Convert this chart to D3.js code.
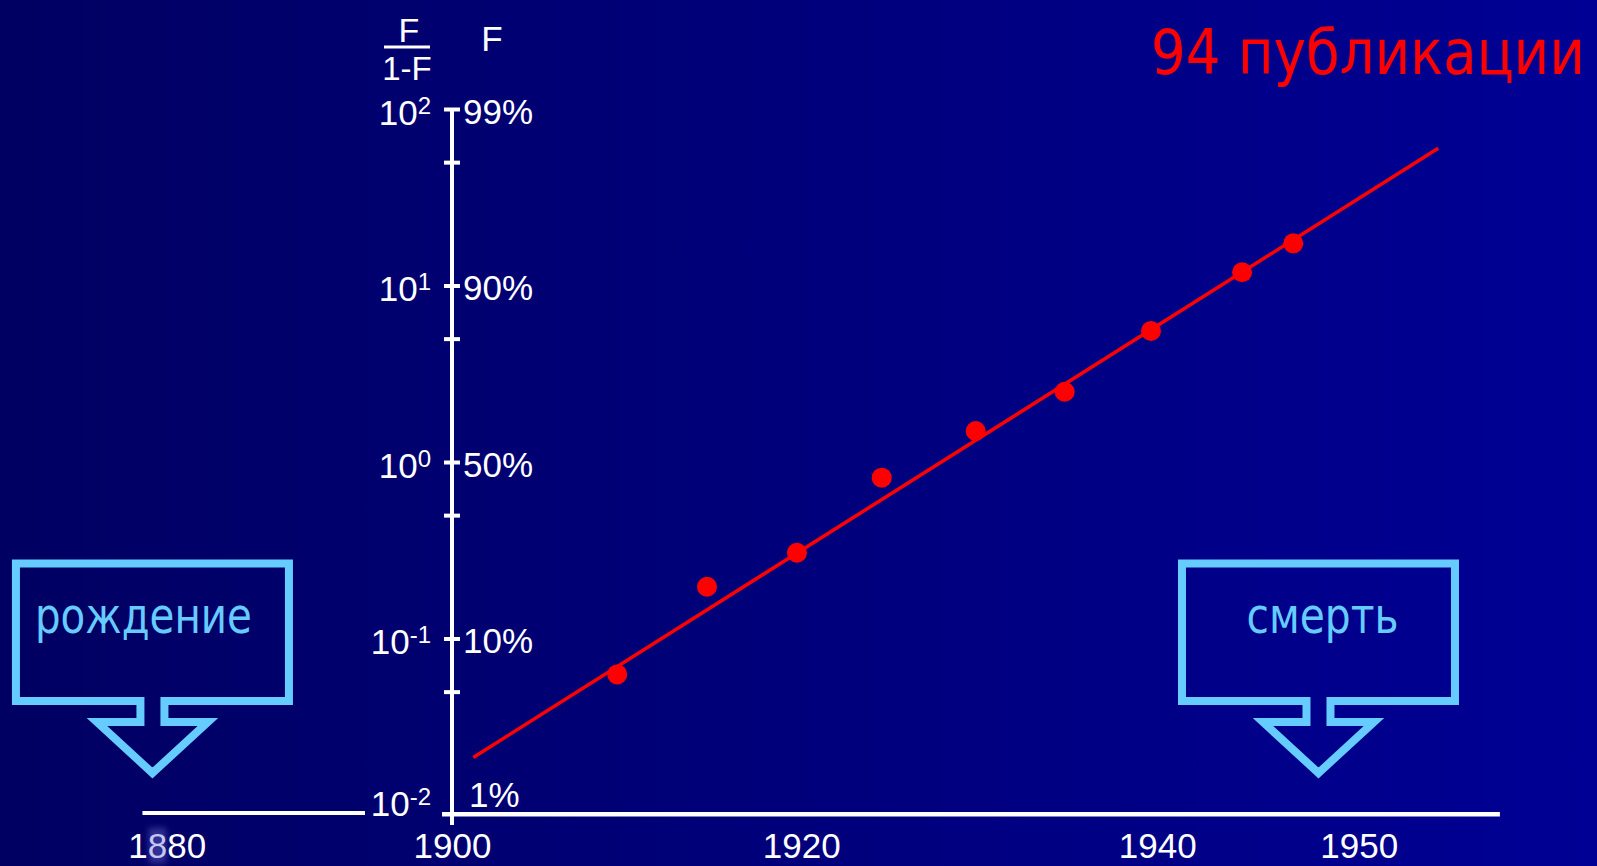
<!DOCTYPE html>
<html>
<head>
<meta charset="utf-8">
<script src="https://cdn.jsdelivr.net/npm/d3@7"></script>
<style>
  html, body { margin: 0; padding: 0; background: #000066; overflow: hidden; }
  svg { display: block; }
</style>
</head>
<body>
<svg id="chart" width="1597" height="866"></svg>
<script>
// Cumulative share of publications F, shown as the odds F/(1-F) on a log axis
const years = [1909.46, 1914.60, 1919.75, 1924.52, 1929.80, 1934.80, 1939.65, 1944.21, 1946.75];
const odds  = [0.0626, 0.1965, 0.306, 0.815, 1.498, 2.50, 5.52, 11.88, 17.34];

// Fitted logistic trend (a straight line in log-odds)
const fitYears = [1901.22, 1953.94];
const fitOdds  = [0.0212, 59.9];

// Axis ticks and labels
const yearTicks  = [1880, 1900, 1920, 1940, 1950];
const oddsTicks  = [0.01, 0.1, 1, 10, 100];
const minorTicks = [0.05, 0.5, 5, 50];
const pctLabels  = ["1%", "10%", "50%", "90%", "99%"];
const axisRuns   = [[1878.3, 1893.9], [1899.3, 1957.0]];

// Life events
const eventLabels = ["рождение", "смерть"];
const eventYears  = [1879, 1948];

const title = "94 публикации";

const W = 1597, H = 866;
const svg = d3.select("#chart");
const numFont = "'Liberation Sans', Arial, sans-serif";
const txtFont = "'DejaVu Sans', Tahoma, Verdana, sans-serif";
const white = "#ffffff";
const red = "#ff0000";
const cyan = "#66ccff";

// text squeezed horizontally to a given width (Tahoma-like proportions)
function fitText(g, str, cx, baseline, width, size, fill, anchor) {
  const t = g.append("text")
    .attr("font-family", txtFont).attr("font-size", size)
    .attr("fill", fill).attr("text-anchor", anchor).text(str);
  const natural = t.node().getComputedTextLength();
  t.attr("transform", `translate(${cx},${baseline}) scale(${width / natural},1)`);
  return t;
}

// background
const defs = svg.append("defs");
const grad = defs.append("linearGradient").attr("id", "bg").attr("x1", 0).attr("x2", 1).attr("y1", 0).attr("y2", 0);
grad.append("stop").attr("offset", "0%").attr("stop-color", "#000062");
grad.append("stop").attr("offset", "100%").attr("stop-color", "#000094");
const glow = defs.append("filter").attr("id", "soft").attr("x", "-50%").attr("y", "-50%").attr("width", "200%").attr("height", "200%");
glow.append("feGaussianBlur").attr("stdDeviation", 3);
svg.append("rect").attr("width", W).attr("height", H).attr("fill", "url(#bg)");

// scales: the year axis is calibrated piecewise on its labelled years
const x = d3.scaleLinear().domain(yearTicks).range([166.7, 452, 801.3, 1157.2, 1358.8]);
const y = d3.scaleLog().domain([0.01, 100]).range([815, 109]);
const ax = x(1900);
const base = y(0.01);

// broken horizontal baseline
svg.append("g").selectAll("line").data(axisRuns).join("line")
  .attr("x1", d => x(d[0])).attr("x2", d => x(d[1]))
  .attr("y1", (d, i) => base - (i === 0 ? 2 : 0.7))
  .attr("y2", (d, i) => base - (i === 0 ? 2 : 0.7))
  .attr("stroke", white).attr("stroke-width", (d, i) => i === 0 ? 4 : 4.5);

// year labels
const gx = svg.append("g").attr("transform", `translate(0,${base})`)
  .call(d3.axisBottom(x).tickValues(yearTicks).tickSize(0).tickFormat(d3.format("d")));
gx.select(".domain").remove();
gx.selectAll(".tick text")
  .attr("y", 43).attr("dy", 0)
  .attr("fill", white).attr("font-family", numFont).attr("font-size", 35);

// soft highlight on the second digit of the first year label
gx.selectAll(".tick text").filter(d => d === yearTicks[0]).each(function () {
  const t = d3.select(this);
  const label = t.text();
  const ext = this.getExtentOfChar(1);
  const tick = d3.select(this.parentNode);
  tick.insert("rect", "text")
    .attr("x", ext.x + 1).attr("y", ext.y + 2)
    .attr("width", ext.width - 2).attr("height", ext.height - 4)
    .attr("fill", "#5a5ab8").attr("opacity", 0.55).attr("filter", "url(#soft)");
  t.text(null);
  t.append("tspan").text(label[0]);
  t.append("tspan").attr("fill", "#c6c6f2").text(label[1]);
  t.append("tspan").text(label.slice(2));
});

// vertical axis
svg.append("line")
  .attr("x1", ax).attr("x2", ax).attr("y1", y(100)).attr("y2", base + 10)
  .attr("stroke", white).attr("stroke-width", 4);

const gt = svg.append("g").attr("transform", `translate(${ax},0)`)
  .call(d3.axisRight(y).tickValues(oddsTicks.concat(minorTicks)).tickSize(8).tickSizeOuter(0).tickFormat(""));
gt.select(".domain").remove();
gt.selectAll(".tick line").attr("x1", -8).attr("x2", 8).attr("stroke", white).attr("stroke-width", 4);
gt.selectAll(".tick").filter(d => d === 0.01).remove();

// odds labels 10^k on the left
const gl = svg.append("g").attr("transform", `translate(${ax},0)`)
  .call(d3.axisLeft(y).tickValues(oddsTicks).tickSize(0).tickPadding(21).tickFormat(""));
gl.select(".domain").remove();
gl.selectAll(".tick text").each(function (d) {
  const t = d3.select(this)
    .attr("fill", white).attr("font-family", numFont).attr("font-size", 35)
    .attr("dy", d === 0.01 ? 0 : 15);
  t.append("tspan").text("10");
  t.append("tspan").attr("dy", -11).attr("font-size", 24).text(Math.round(Math.log10(d)));
});

// share labels on the right
const gr = svg.append("g").attr("transform", `translate(${ax},0)`)
  .call(d3.axisRight(y).tickValues(oddsTicks).tickSize(0).tickPadding(11).tickFormat((d, i) => pctLabels[i]));
gr.select(".domain").remove();
gr.selectAll(".tick text")
  .attr("fill", white).attr("font-family", numFont).attr("font-size", 35)
  .attr("dy", d => d === 0.01 ? -9 : 14)
  .attr("x", d => d === 0.01 ? 17 : 11);

// axis headers: F/(1-F) and F
const hdr = svg.append("g").attr("fill", white).attr("font-family", numFont).attr("text-anchor", "middle");
hdr.append("text").attr("x", ax - 43).attr("y", 42).attr("font-size", 34).text("F");
hdr.append("line").attr("x1", ax - 68).attr("x2", ax - 22).attr("y1", 47).attr("y2", 47)
  .attr("stroke", white).attr("stroke-width", 3);
hdr.append("text").attr("x", ax - 45).attr("y", 80).attr("font-size", 33).text("1-F");
hdr.append("text").attr("x", ax + 40).attr("y", 51).attr("font-size", 35).text("F");

// fitted line
svg.append("path")
  .datum(fitYears.map((t, i) => [t, fitOdds[i]]))
  .attr("d", d3.line().x(d => x(d[0])).y(d => y(d[1])))
  .attr("fill", "none").attr("stroke", red).attr("stroke-width", 3.5);

// observed points
svg.append("g").selectAll("circle").data(years).join("circle")
  .attr("cx", d => x(d)).attr("cy", (d, i) => y(odds[i]))
  .attr("r", 10).attr("fill", red);

// title
fitText(svg, title, 1151, 73.5, 434, 63, red, "start");

// callouts for birth and death
const box = { half: 136.5, top: 563.5, bottom: 701, stem: 12, head: 55.5, headTop: 722, tip: 773 };
const textDx = [-9, 4];
const textLen = [217, 152];
const callout = svg.append("g");
eventYears.forEach((yr, i) => {
  const cx = x(yr);
  const p = d3.path();
  p.moveTo(cx - box.half, box.top);
  p.lineTo(cx + box.half, box.top);
  p.lineTo(cx + box.half, box.bottom);
  p.lineTo(cx + box.stem, box.bottom);
  p.lineTo(cx + box.stem, box.headTop);
  p.lineTo(cx + box.head, box.headTop);
  p.lineTo(cx, box.tip);
  p.lineTo(cx - box.head, box.headTop);
  p.lineTo(cx - box.stem, box.headTop);
  p.lineTo(cx - box.stem, box.bottom);
  p.lineTo(cx - box.half, box.bottom);
  p.closePath();
  callout.append("path").attr("d", p.toString())
    .attr("fill", "none").attr("stroke", cyan).attr("stroke-width", 8)
    .attr("stroke-linejoin", "miter").attr("stroke-miterlimit", 10);
  fitText(callout, eventLabels[i], cx + textDx[i], 633, textLen[i], 49, cyan, "middle");
});
</script>
</body>
</html>
